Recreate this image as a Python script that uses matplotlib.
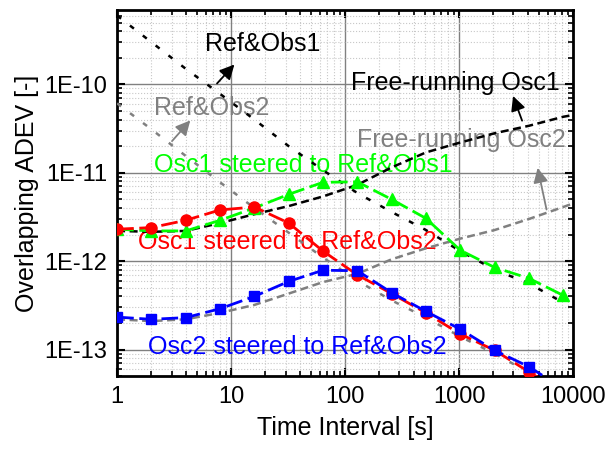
import numpy as np
import matplotlib
matplotlib.use('Agg')
import matplotlib.pyplot as plt
from matplotlib.ticker import FuncFormatter, FixedLocator, NullFormatter

plt.rcParams['font.family'] = ['Liberation Sans', 'DejaVu Sans']

# averaging times [s]
tau = [1, 2, 4, 8, 16, 32, 64, 128, 256, 512, 1024, 2048, 4096, 8192]
tau_fr = [1, 2, 4, 8, 16, 32, 64, 128, 256, 512, 1024, 2048, 4096, 8192, 10000]

# steered oscillators
osc1_obs1 = [2.3e-12, 2.2e-12, 2.2e-12, 2.9e-12, 4.0e-12, 5.7e-12, 7.8e-12, 7.9e-12,
             5.0e-12, 3.05e-12, 1.33e-12, 8.5e-13, 6.4e-13, 4.1e-13]
osc1_obs2 = [2.3e-12, 2.4e-12, 2.9e-12, 3.8e-12, 4.1e-12, 2.7e-12, 1.3e-12, 7.0e-13,
             4.3e-13, 2.6e-13, 1.5e-13, 9.8e-14, 5.6e-14, 3.2e-14]
osc2_obs2 = [2.33e-13, 2.2e-13, 2.3e-13, 2.9e-13, 4.0e-13, 5.9e-13, 7.9e-13, 7.8e-13,
             4.4e-13, 2.7e-13, 1.7e-13, 9.8e-14, 6.4e-14, 3.6e-14]

# references / observations
ref_obs1 = [6.0e-10, 3.0e-10, 1.5e-10, 7.8e-11, 4.0e-11, 2.0e-11, 1.07e-11, 5.9e-12,
            3.6e-12, 2.25e-12, 1.3e-12, 8.0e-13, 5.6e-13, 3.4e-13]
ref_obs2 = [6.1e-11, 3.1e-11, 1.55e-11, 7.8e-12, 4.0e-12, 2.1e-12, 1.1e-12, 6.0e-13,
            3.6e-13, 2.3e-13, 1.4e-13, 9.0e-14, 5.5e-14, 3.3e-14]

# free-running oscillators
free_osc1 = [2.2e-12, 2.15e-12, 2.2e-12, 2.7e-12, 3.4e-12, 4.2e-12, 5.4e-12, 7.3e-12,
             1.15e-11, 1.7e-11, 2.2e-11, 2.8e-11, 3.4e-11, 4.3e-11, 4.5e-11]
free_osc2 = [2.2e-13, 2.1e-13, 2.2e-13, 2.6e-13, 3.2e-13, 4.3e-13, 5.8e-13, 7.2e-13,
             1.05e-12, 1.4e-12, 1.8e-12, 2.25e-12, 3.0e-12, 4.1e-12, 4.5e-12]

x_ticks = [1, 10, 100, 1000, 10000]
y_ticks = [1e-13, 1e-12, 1e-11, 1e-10]

GRAY = '#808080'

fig = plt.figure(figsize=(6.1, 4.5), dpi=100)
ax = fig.add_axes([0.192, 0.164, 0.7475, 0.8133])

ax.plot(tau, ref_obs1, color='black', lw=1.8, ls=(0, (2, 4.5)), zorder=3)
ax.plot(tau, ref_obs2, color=GRAY, lw=1.8, ls=(0, (2, 4.5)), zorder=3)
ax.plot(tau_fr, free_osc1, color='black', lw=1.8, ls=(0, (3.2, 1.8)), zorder=3)
ax.plot(tau_fr, free_osc2, color=GRAY, lw=1.8, ls=(0, (3.2, 1.8)), zorder=3)

ax.plot(tau, osc1_obs1, color='#00ff00', lw=2, ls=(0, (6, 2)), marker='^', ms=9,
        mec='#00ff00', zorder=4)
ax.plot(tau, osc1_obs2, color='#ff0000', lw=2, ls=(0, (6, 2)), marker='o', ms=8,
        mec='#ff0000', zorder=4)
ax.plot(tau, osc2_obs2, color='#0000ff', lw=2, ls=(0, (6, 2)), marker='s', ms=7.5,
        mec='#0000ff', zorder=5)

ax.set_xscale('log')
ax.set_yscale('log')
ax.set_xlim(1, 10000)
ax.set_ylim(5e-14, 6.9e-10)

ax.xaxis.set_major_locator(FixedLocator(x_ticks))
ax.yaxis.set_major_locator(FixedLocator(y_ticks))
x_minor = [m * d for d in [1, 10, 100, 1000] for m in range(2, 10)]
y_minor = [m * d for d in [1e-14, 1e-13, 1e-12, 1e-11, 1e-10] for m in range(2, 10)
           if 5e-14 <= m * d <= 6.9e-10]
ax.xaxis.set_minor_locator(FixedLocator(x_minor))
ax.yaxis.set_minor_locator(FixedLocator(y_minor))
ax.xaxis.set_major_formatter(FuncFormatter(lambda v, p: '%d' % round(v)))
ax.yaxis.set_major_formatter(FuncFormatter(lambda v, p: '1E%d' % round(np.log10(v))))
ax.xaxis.set_minor_formatter(NullFormatter())
ax.yaxis.set_minor_formatter(NullFormatter())

ax.grid(True, which='major', color=GRAY, lw=1.0, zorder=0)
ax.grid(True, which='minor', color='#c8c8c8', lw=0.8, ls=':', zorder=0)
ax.set_axisbelow(True)

ax.tick_params(which='both', direction='in', top=True, right=True, labelsize=17)
ax.tick_params(which='major', length=6, width=1.5, pad=7)
ax.tick_params(which='minor', length=3.5, width=1.2)
for s in ax.spines.values():
    s.set_linewidth(2)

ax.set_xlabel('Time Interval [s]', fontsize=18, labelpad=6)
ax.set_ylabel('Overlapping ADEV [-]', fontsize=18, labelpad=4)

arrow_k = dict(arrowstyle='-|>', color='black', lw=1.3, mutation_scale=22)
arrow_g = dict(arrowstyle='-|>', color=GRAY, lw=1.3, mutation_scale=22)

ax.text(19.1, 2.83e-10, 'Ref&Obs1', fontsize=18, ha='center', va='center', zorder=2)
ax.annotate('', xy=(11.1, 1.77e-10), xytext=(7.24, 9.7e-11), arrowprops=arrow_k, zorder=6)

ax.text(6.81, 5.36e-11, 'Ref&Obs2', fontsize=18, color=GRAY, ha='center', va='center', zorder=2)
ax.annotate('', xy=(4.55, 4.13e-11), xytext=(2.92, 2.16e-11), arrowprops=arrow_g, zorder=6)

ax.text(923, 1.03e-10, 'Free-running Osc1', fontsize=18, ha='center', va='center', zorder=2)
ax.annotate('', xy=(2917, 7.9e-11), xytext=(3640, 3.63e-11), arrowprops=arrow_k, zorder=6)

ax.text(1042, 2.33e-11, 'Free-running Osc2', fontsize=18, color=GRAY, ha='center', va='center', zorder=2)
ax.annotate('', xy=(4830, 1.22e-11), xytext=(5915, 3.58e-12), arrowprops=arrow_g, zorder=6)

ax.text(42.8, 1.22e-11, 'Osc1 steered to Ref&Obs1', fontsize=18, color='#00ff00',
        ha='center', va='center', zorder=2)
ax.text(31, 1.64e-12, 'Osc1 steered to Ref&Obs2', fontsize=18, color='#ff0000',
        ha='center', va='center', zorder=2)
ax.text(38, 1.07e-13, 'Osc2 steered to Ref&Obs2', fontsize=18, color='#0000ff',
        ha='center', va='center', zorder=2)

plt.savefig('out.png')
